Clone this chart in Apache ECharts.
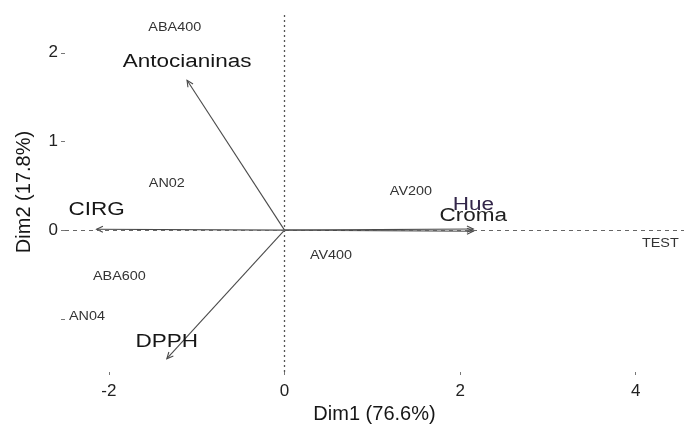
<!DOCTYPE html>
<html>
<head>
<meta charset="utf-8">
<title>PCA biplot</title>
<script src="https://cdn.jsdelivr.net/npm/echarts@6/dist/echarts.min.js"></script>
<style>
  html, body { margin: 0; padding: 0; background: #fff; }
  #chart { width: 684px; height: 427px; }
</style>
</head>
<body>
<div id="chart"></div>
<script>
// Individuals (scores on Dim1 / Dim2)
const sampleNames = ['ABA400', 'AN02', 'ABA600', 'AN04', 'AV200', 'AV400', 'TEST'];
const sampleDim1  = [-1.25, -1.34, -1.88, -2.25, 1.44, 0.53, 4.28];
const sampleDim2  = [2.28, 0.52, -0.53, -0.98, 0.43, -0.29, -0.15];

// Variables (loading arrows drawn from the origin)
const varNames = ['Antocianinas', 'CIRG', 'DPPH', 'Hue', 'Croma'];
const varDim1  = [-1.11, -2.14, -1.34, 2.15, 2.15];
const varDim2  = [1.69, 0.01, -1.45, 0.012, -0.012];

// Axis ticks
const xTicks = [-2, 0, 2, 4];
const yTicks = [-1, 0, 1, 2];
const yTickLabels = [0, 1, 2];

const FONT = '"Liberation Sans", Arial, Helvetica, sans-serif';

// vertical offset (px) of each arrow label above its tip, and label colour
const varLabelStyle = {
  Antocianinas: { dy: -18, fill: '#161616' },
  CIRG: { dy: -19, fill: '#161616' },
  DPPH: { dy: -17, fill: '#161616' },
  Hue: { dy: -24, fill: '#33264a' },
  Croma: { dy: -15, fill: '#202020' }
};

const chart = echarts.init(document.getElementById('chart'), null, { renderer: 'canvas' });

function renderArrow(params, api) {
  const o = api.coord([0, 0]);
  const t = api.coord([api.value(0), api.value(1)]);
  const name = varNames[params.dataIndex];
  const st = varLabelStyle[name];
  const ang = Math.atan2(t[1] - o[1], t[0] - o[0]);
  const hl = 7, ha = Math.PI / 7;
  const p1 = [t[0] - hl * Math.cos(ang - ha), t[1] - hl * Math.sin(ang - ha)];
  const p2 = [t[0] - hl * Math.cos(ang + ha), t[1] - hl * Math.sin(ang + ha)];
  return {
    type: 'group',
    children: [
      { type: 'line', shape: { x1: o[0], y1: o[1], x2: t[0], y2: t[1] },
        style: { stroke: '#4a4a4a', lineWidth: 1.1 } },
      { type: 'polyline', shape: { points: [p1, t, p2] },
        style: { stroke: '#4a4a4a', lineWidth: 1.1, fill: null } },
      { type: 'text', x: t[0], y: t[1] + st.dy, scaleX: 1.25,
        style: { text: name, font: '18px ' + FONT, fill: st.fill,
                 align: 'center', verticalAlign: 'middle' } }
    ]
  };
}

function renderSample(params, api) {
  const p = api.coord([api.value(0), api.value(1)]);
  return {
    type: 'text', x: p[0], y: p[1], scaleX: 1.2,
    style: { text: sampleNames[params.dataIndex], font: '12px ' + FONT, fill: '#333',
             align: 'center', verticalAlign: 'middle' }
  };
}

const option = {
  backgroundColor: '#fff',
  animation: false,
  grid: { left: 65, right: 0, top: 12, bottom: 55, containLabel: false, outerBoundsMode: 'none' },
  xAxis: {
    type: 'value', min: -2.5, max: 4.55,
    splitLine: { show: false },
    axisLine: { show: false, onZero: false },
    axisTick: { show: true, customValues: xTicks, length: 3, lineStyle: { color: '#777' } },
    axisLabel: { customValues: xTicks, fontFamily: FONT, fontSize: 17, color: '#222', margin: 11 },
    name: 'Dim1 (76.6%)', nameLocation: 'middle', nameGap: 29,
    nameTextStyle: { fontFamily: FONT, fontSize: 20, color: '#161616' }
  },
  yAxis: {
    type: 'value', min: -1.6, max: 2.46,
    splitLine: { show: false },
    axisLine: { show: false, onZero: false },
    axisTick: { show: true, customValues: yTicks, length: 4, lineStyle: { color: '#777' } },
    axisLabel: { customValues: yTickLabels, fontFamily: FONT, fontSize: 17, color: '#222', margin: 7 },
    name: 'Dim2 (17.8%)', nameLocation: 'middle', nameGap: 31,
    nameTextStyle: { fontFamily: FONT, fontSize: 20, color: '#161616' }
  },
  series: [
    {
      type: 'custom',
      name: 'variables',
      clip: false,
      silent: true,
      renderItem: renderArrow,
      data: varDim1.map((x, i) => [x, varDim2[i]]),
      markLine: {
        silent: true,
        symbol: ['none', 'none'],
        label: { show: false },
        data: [
          { xAxis: 0, lineStyle: { type: [2, 3], color: '#555', width: 1.3 } },
          { yAxis: 0, lineStyle: { type: [4, 4], color: '#666', width: 1 } }
        ]
      },
      z: 3
    },
    {
      type: 'custom',
      name: 'individuals',
      clip: false,
      silent: true,
      renderItem: renderSample,
      data: sampleDim1.map((x, i) => [x, sampleDim2[i]]),
      z: 4
    }
  ]
};

chart.setOption(option);
</script>
</body>
</html>
